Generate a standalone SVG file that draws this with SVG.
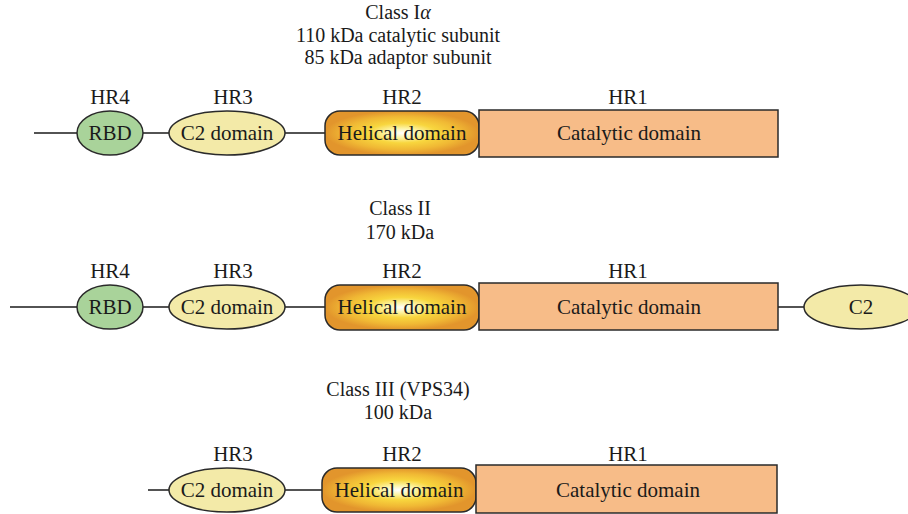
<svg xmlns="http://www.w3.org/2000/svg" width="908" height="514" viewBox="0 0 908 514">
<defs>
<radialGradient id="hel" cx="0.5" cy="0.5" r="0.5">
<stop offset="0" stop-color="#ffffff"/>
<stop offset="0.22" stop-color="#fdf3a0"/>
<stop offset="0.45" stop-color="#f8d63e"/>
<stop offset="0.75" stop-color="#f0b834"/>
<stop offset="1" stop-color="#e2952c"/>
</radialGradient>
<style>
text{font-family:"Liberation Serif","DejaVu Serif",serif;font-size:21px;fill:#1a1a1a;text-anchor:middle}
.t{font-size:20px}
.ln{stroke:#1a1a1a;stroke-width:1.5;fill:none}
.rbd{fill:#a9d39a;stroke:#2a2a2a;stroke-width:1.5}
.c2{fill:#f3eaa8;stroke:#2a2a2a;stroke-width:1.5}
.hel{fill:url(#hel);stroke:#2a2a2a;stroke-width:1.5}
.cat{fill:#f7bc88;stroke:#2a2a2a;stroke-width:1.5}
</style>
</defs>
<rect width="908" height="514" fill="#ffffff"/>
<g id="titles">
<text class="t" x="398" y="19">Class I<tspan font-style="italic">α</tspan></text>
<text class="t" x="398" y="41.5">110 kDa catalytic subunit</text>
<text class="t" x="398" y="64">85 kDa adaptor subunit</text>
<text class="t" x="400" y="215">Class II</text>
<text class="t" x="400" y="239">170 kDa</text>
<text class="t" x="398" y="396">Class III (VPS34)</text>
<text class="t" x="398" y="419">100 kDa</text>
</g>
<g id="labels">
<text x="110" y="104">HR4</text>
<text x="233" y="104">HR3</text>
<text x="402" y="104">HR2</text>
<text x="628" y="104">HR1</text>
<text x="110" y="278">HR4</text>
<text x="233" y="278">HR3</text>
<text x="402" y="278">HR2</text>
<text x="628" y="278">HR1</text>
<text x="233" y="461">HR3</text>
<text x="402" y="461">HR2</text>
<text x="628" y="461">HR1</text>
</g>
<g id="connectors">
<line class="ln" x1="34" y1="133" x2="77" y2="133"/>
<line class="ln" x1="142" y1="133" x2="169" y2="133"/>
<line class="ln" x1="285" y1="133" x2="325" y2="133"/>
<line class="ln" x1="10" y1="307" x2="77" y2="307"/>
<line class="ln" x1="142" y1="307" x2="169" y2="307"/>
<line class="ln" x1="285" y1="307" x2="325" y2="307"/>
<line class="ln" x1="778" y1="307" x2="804" y2="307"/>
<line class="ln" x1="148" y1="490" x2="169" y2="490"/>
<line class="ln" x1="285" y1="490" x2="322" y2="490"/>
</g>
<g id="row1">
<g id="r1-rbd"><ellipse class="rbd" cx="110" cy="133" rx="33" ry="22"/><text x="110" y="140">RBD</text></g>
<g id="r1-c2"><ellipse class="c2" cx="227" cy="133" rx="58" ry="22"/><text x="227" y="140">C2 domain</text></g>
<g id="r1-hel"><rect class="hel" x="325" y="111" width="154" height="44" rx="15"/><text x="402" y="140">Helical domain</text></g>
<g id="r1-cat"><rect class="cat" x="479" y="110" width="299" height="47"/><text x="629" y="140">Catalytic domain</text></g>
</g>
<g id="row2">
<g id="r2-rbd"><ellipse class="rbd" cx="110" cy="307" rx="33" ry="22"/><text x="110" y="314">RBD</text></g>
<g id="r2-c2"><ellipse class="c2" cx="227" cy="307" rx="58" ry="22"/><text x="227" y="314">C2 domain</text></g>
<g id="r2-hel"><rect class="hel" x="325" y="285" width="154" height="45" rx="15"/><text x="402" y="314">Helical domain</text></g>
<g id="r2-cat"><rect class="cat" x="479" y="283" width="299" height="47"/><text x="629" y="314">Catalytic domain</text></g>
<g id="r2-c2b"><ellipse class="c2" cx="861" cy="307" rx="57" ry="22"/><text x="861" y="314">C2</text></g>
</g>
<g id="row3">
<g id="r3-c2"><ellipse class="c2" cx="227" cy="490" rx="58" ry="22"/><text x="227" y="497">C2 domain</text></g>
<g id="r3-hel"><rect class="hel" x="322" y="468" width="154" height="44" rx="15"/><text x="399" y="497">Helical domain</text></g>
<g id="r3-cat"><rect class="cat" x="476" y="465" width="301" height="48"/><text x="628" y="497">Catalytic domain</text></g>
</g>
</svg>
